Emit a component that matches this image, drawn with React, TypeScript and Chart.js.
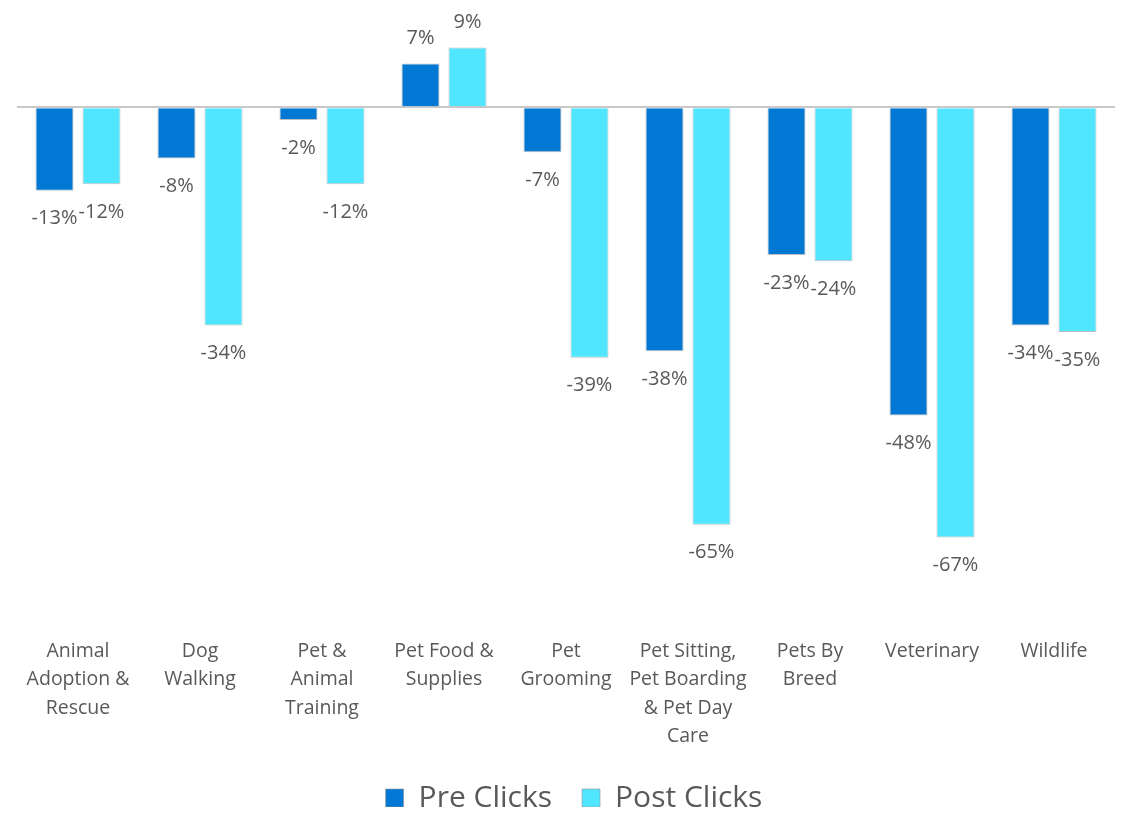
import React, { useEffect, useRef } from "react";
import { Chart, registerables } from "chart.js";

Chart.register(...registerables);

const categories: string[][] = [
  ["Animal", "Adoption &", "Rescue"],
  ["Dog", "Walking"],
  ["Pet &", "Animal", "Training"],
  ["Pet Food &", "Supplies"],
  ["Pet", "Grooming"],
  ["Pet Sitting,", "Pet Boarding", "& Pet Day", "Care"],
  ["Pets By", "Breed"],
  ["Veterinary"],
  ["Wildlife"],
];

const preClicks = [-0.13, -0.08, -0.02, 0.068, -0.07, -0.38, -0.23, -0.48, -0.34];
const postClicks = [-0.12, -0.34, -0.12, 0.093, -0.39, -0.65, -0.24, -0.67, -0.35];

const seriesNames = ["Pre Clicks", "Post Clicks"];
const seriesColors = ["#0078D4", "#50E6FF"];

const FONT = "'Open Sans', 'Noto Sans', sans-serif";
const TEXT_COLOR = "#595959";

const valueLabels = {
  id: "valueLabels",
  afterDatasetsDraw(chart: any) {
    const ctx = chart.ctx;
    ctx.save();
    ctx.font = `20px ${FONT}`;
    ctx.fillStyle = TEXT_COLOR;
    ctx.textAlign = "center";
    ctx.textBaseline = "middle";
    chart.data.datasets.forEach((ds: any, i: number) => {
      const meta = chart.getDatasetMeta(i);
      meta.data.forEach((el: any, j: number) => {
        const v = ds.data[j] as number;
        const text = `${Math.round(v * 100)}%`;
        const y = v < 0 ? el.y + 28 : el.y - 25;
        ctx.fillText(text, el.x, y);
      });
    });
    ctx.restore();
  },
};

const legendShift = {
  id: "legendShift",
  afterLayout(chart: any) {
    if (chart.legend) {
      chart.legend.left += 8;
      chart.legend.right += 8;
    }
  },
};

export default function App() {
  const canvasRef = useRef<HTMLCanvasElement | null>(null);

  useEffect(() => {
    if (!canvasRef.current) return;
    const chart = new Chart(canvasRef.current, {
      type: "bar",
      data: {
        labels: categories,
        datasets: [
          {
            label: seriesNames[0],
            data: preClicks,
            backgroundColor: seriesColors[0],
            borderColor: "rgba(150,150,150,0.6)",
            borderWidth: 1,
            categoryPercentage: 0.77,
            barPercentage: 0.81,
          },
          {
            label: seriesNames[1],
            data: postClicks,
            backgroundColor: seriesColors[1],
            borderColor: "rgba(150,150,150,0.6)",
            borderWidth: 1,
            categoryPercentage: 0.77,
            barPercentage: 0.81,
          },
        ],
      },
      options: {
        responsive: true,
        maintainAspectRatio: false,
        animation: false,
        layout: { padding: { top: 35, left: 9, right: 4, bottom: 0 } },
        plugins: {
          legend: {
            position: "bottom",
            labels: {
              font: { family: FONT, size: 30 },
              color: TEXT_COLOR,
              boxWidth: 18,
              boxHeight: 18,
              padding: 30,
            },
          },
          tooltip: { enabled: false },
        },
        scales: {
          x: {
            grid: { display: false, drawTicks: false },
            border: { display: false },
            ticks: {
              color: TEXT_COLOR,
              font: { family: FONT, size: 19.5, lineHeight: 1.46 },
              autoSkip: false,
              maxRotation: 0,
              minRotation: 0,
              padding: 16,
            },
            afterFit(scale: any) {
              scale.height = 132;
            },
          },
          y: {
            display: true,
            min: -0.8,
            max: 0.1,
            ticks: { display: false, stepSize: 0.1 },
            border: { display: false },
            grid: {
              drawTicks: false,
              lineWidth: (c: any) => (c.tick && Math.abs(c.tick.value) < 1e-9 ? 2 : 0),
              color: (c: any) => (c.tick && Math.abs(c.tick.value) < 1e-9 ? "#C8C8C8" : "rgba(0,0,0,0)"),
            },
            afterFit(scale: any) {
              scale.width = 0;
            },
          },
        },
      },
      plugins: [valueLabels, legendShift],
    });
    return () => chart.destroy();
  }, []);

  return (
    <div style={{ width: 1111, height: 799, overflow: "hidden" }}>
      <div style={{ width: 1111, height: 815, position: "relative" }}>
        <canvas ref={canvasRef} />
      </div>
    </div>
  );
}
